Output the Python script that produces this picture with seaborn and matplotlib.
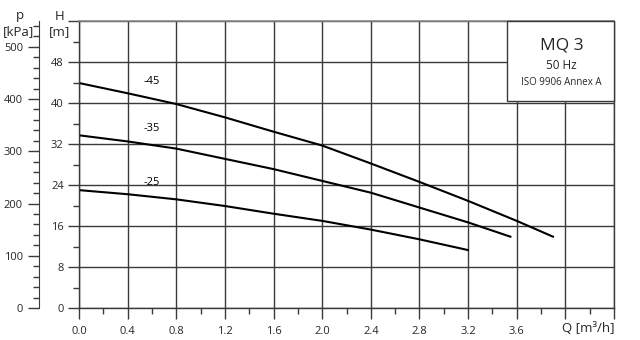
import numpy as np
import pandas as pd
import matplotlib
matplotlib.use("Agg")
import matplotlib.pyplot as plt
from matplotlib.ticker import MultipleLocator, FixedLocator, FixedFormatter
from matplotlib.patches import Rectangle
import seaborn as sns

# ---- data ----
q45 = [0.0, 0.4, 0.8, 1.2, 1.6, 2.0, 2.4, 2.8, 3.2, 3.6, 3.9]
h45 = [43.9, 41.9, 39.8, 37.2, 34.4, 31.7, 28.2, 24.6, 20.9, 17.0, 13.9]
q35 = [0.0, 0.4, 0.8, 1.2, 1.6, 2.0, 2.4, 2.8, 3.2, 3.55]
h35 = [33.7, 32.5, 31.1, 29.1, 27.1, 24.8, 22.5, 19.6, 16.7, 13.9]
q25 = [0.0, 0.4, 0.8, 1.2, 1.6, 2.0, 2.4, 2.8, 3.2]
h25 = [23.0, 22.2, 21.2, 19.9, 18.4, 17.0, 15.3, 13.4, 11.3]
curve_labels = ["-45", "-35", "-25"]
label_q = [0.60, 0.60, 0.60]
label_h = [43.2, 34.0, 23.4]
x_ticks = [0.0, 0.4, 0.8, 1.2, 1.6, 2.0, 2.4, 2.8, 3.2, 3.6, 4.0, 4.4]
x_ticklabels = ["0.0", "0.4", "0.8", "1.2", "1.6", "2.0", "2.4", "2.8", "3.2", "3.6", "", ""]
h_ticks = [0, 8, 16, 24, 32, 40, 48, 56]
h_ticklabels = ["0", "8", "16", "24", "32", "40", "48", ""]
p_ticks = [0, 100, 200, 300, 400, 500]
title_lines = ["MQ 3", "50 Hz", "ISO 9906 Annex A"]

df = pd.concat([
    pd.DataFrame({"Q": q45, "H": h45, "curve": "-45"}),
    pd.DataFrame({"Q": q35, "H": h35, "curve": "-35"}),
    pd.DataFrame({"Q": q25, "H": h25, "curve": "-25"}),
])

sns.set_style("white")
plt.rcParams["font.family"] = ["Open Sans", "DejaVu Sans"]

fig = plt.figure(figsize=(6.4, 3.4), dpi=100)
ax = fig.add_axes([79/640, 1 - 308/340, (614-79)/640, (308-21)/340])

gc = "#3a3a3a"
sns.lineplot(data=df, x="Q", y="H", units="curve", estimator=None, sort=False,
             color="black", linewidth=1.5, ax=ax, legend=False)

ax.set_xlim(0, 4.4)
ax.set_ylim(0, 56)
ax.xaxis.set_major_locator(FixedLocator(x_ticks))
ax.xaxis.set_major_formatter(FixedFormatter(x_ticklabels))
ax.xaxis.set_minor_locator(MultipleLocator(0.2))
ax.yaxis.set_major_locator(FixedLocator(h_ticks))
ax.yaxis.set_major_formatter(FixedFormatter(h_ticklabels))
ax.yaxis.set_minor_locator(MultipleLocator(4))
ax.grid(True, which="major", color=gc, linewidth=1.0)
ax.tick_params(which="major", length=8, width=1.0, color=gc, labelsize=8, pad=3,
               direction="out", bottom=True, left=True)
ax.tick_params(which="minor", length=4, width=1.0, color=gc, bottom=True, left=True, direction="out")
ax.tick_params(axis="x", pad=5)
for s in ["left", "bottom", "right"]:
    ax.spines[s].set_color(gc)
    ax.spines[s].set_linewidth(1.0)
ax.spines["top"].set_color("#888888")
ax.spines["top"].set_linewidth(1.2)
ax.set_xlabel("")
ax.set_ylabel("")

for lab, x, y in zip(curve_labels, label_q, label_h):
    ax.text(x, y, lab, fontsize=8, ha="center", va="bottom", color="black")

# info box
ax.add_patch(Rectangle((3.52, 40.4), 4.4 - 3.52, 56 - 40.4, facecolor="white",
                       edgecolor=gc, linewidth=1.0, zorder=5, clip_on=False))
ax.text(3.97, 51.3, title_lines[0], fontsize=12.5, ha="center", va="center", zorder=6)
ax.text(3.97, 47.3, title_lines[1], fontsize=8.5, ha="center", va="center", zorder=6)
ax.text(3.97, 44.0, title_lines[2], fontsize=7, ha="center", va="center", zorder=6)

# pressure axis
sec = ax.secondary_yaxis((39 - 79) / 535, functions=(lambda h: h * 9.81, lambda p: p / 9.81))
sec.yaxis.set_major_locator(FixedLocator(p_ticks))
sec.yaxis.set_minor_locator(MultipleLocator(20))
sec.tick_params(which="major", length=8, width=1.0, color=gc, labelsize=8)
sec.tick_params(which="minor", length=4, width=1.0, color=gc)
sec.spines["left"].set_color(gc)

fig.text(20/640, 1 - 16/340, "p", fontsize=9.5, ha="center", va="center")
fig.text(19/640, 1 - 32/340, "[kPa]", fontsize=9.5, ha="center", va="center")
fig.text(60/640, 1 - 16/340, "H", fontsize=9.5, ha="center", va="center")
fig.text(59/640, 1 - 32/340, "[m]", fontsize=9.5, ha="center", va="center")
fig.text(614/640, 1 - 328/340, "Q [m³/h]", fontsize=9.5, ha="right", va="center")

fig.savefig("out.png", dpi=100)
